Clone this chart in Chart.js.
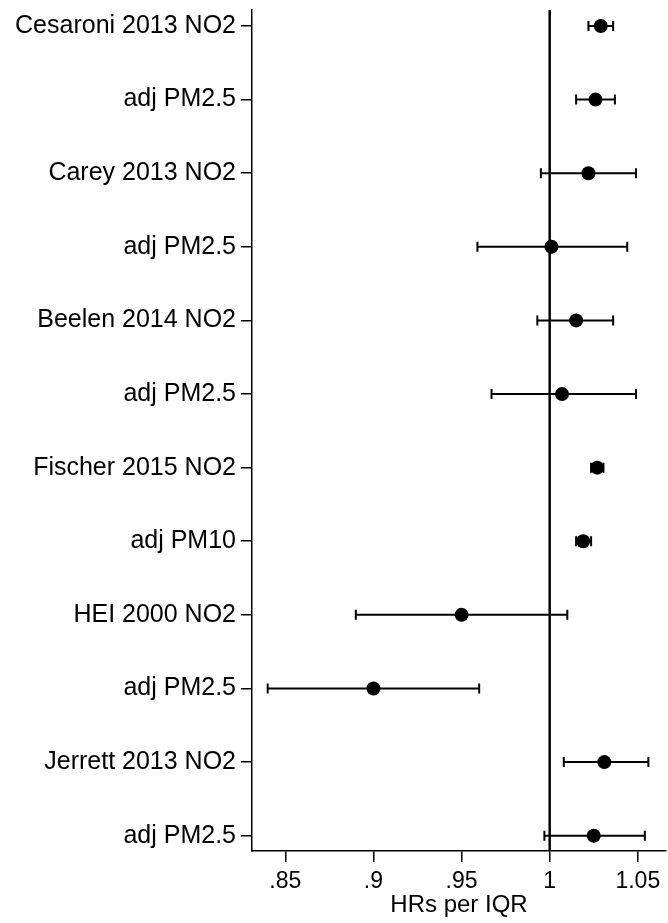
<!DOCTYPE html>
<html>
<head>
<meta charset="utf-8">
<script src="https://cdn.jsdelivr.net/npm/chart.js@4"></script>
<style>
  body { margin: 0; background: #fff; }
  #wrap { width: 668px; height: 923px; position: relative; }
</style>
</head>
<body>
<div id="wrap"><canvas id="forest"></canvas></div>
<script>
// study rows, top to bottom
const rowLabels = ['Cesaroni 2013 NO2', 'adj PM2.5', 'Carey 2013 NO2', 'adj PM2.5',
  'Beelen 2014 NO2', 'adj PM2.5', 'Fischer 2015 NO2', 'adj PM10',
  'HEI 2000 NO2', 'adj PM2.5', 'Jerrett 2013 NO2', 'adj PM2.5'];
const hr    = [1.029, 1.026, 1.022, 1.001, 1.015, 1.007, 1.027, 1.019, 0.950, 0.900, 1.031, 1.025];
const lower = [1.022, 1.015, 0.995, 0.959, 0.993, 0.967, 1.0235, 1.015, 0.890, 0.840, 1.008, 0.997];
const upper = [1.036, 1.037, 1.049, 1.044, 1.036, 1.049, 1.0305, 1.0235, 1.010, 0.960, 1.056, 1.054];

const xTickValues = [0.85, 0.9, 0.95, 1, 1.05];
const xTickLabels = ['.85', '.9', '.95', '1', '1.05'];
const refValue = 1;

const FONT = 'Liberation Sans, Arial, Helvetica, sans-serif';

// reference line + CI whiskers, drawn under the dots
const forestBars = {
  id: 'forestBars',
  beforeDatasetsDraw(chart) {
    const ctx = chart.ctx;
    const xs = chart.scales.x, ys = chart.scales.y;
    const area = chart.chartArea;
    ctx.save();
    ctx.strokeStyle = '#000';

    let xr = xs.getPixelForValue(refValue);
    ctx.lineWidth = 2.5;
    ctx.beginPath();
    ctx.moveTo(xr, area.top);
    ctx.lineTo(xr, area.bottom);
    ctx.stroke();

    ctx.lineWidth = 2;
    let cap = 5;
    for (let i = 0; i < hr.length; i++) {
      let y = ys.getPixelForValue(i + 1);
      let x1 = xs.getPixelForValue(lower[i]);
      let x2 = xs.getPixelForValue(upper[i]);
      ctx.beginPath();
      ctx.moveTo(x1, y); ctx.lineTo(x2, y);
      ctx.moveTo(x1, y - cap); ctx.lineTo(x1, y + cap);
      ctx.moveTo(x2, y - cap); ctx.lineTo(x2, y + cap);
      ctx.stroke();
    }
    ctx.restore();
  }
};

new Chart(document.getElementById('forest'), {
  type: 'scatter',
  data: {
    datasets: [{
      data: hr.map((v, i) => ({ x: v, y: i + 1 })),
      pointRadius: 7,
      pointHoverRadius: 7,
      backgroundColor: '#000',
      borderWidth: 0
    }]
  },
  options: {
    responsive: true,
    maintainAspectRatio: false,
    animation: false,
    devicePixelRatio: 1,
    layout: { autoPadding: false, padding: { top: 10, right: 2, left: 0, bottom: 0 } },
    plugins: { legend: { display: false }, tooltip: { enabled: false } },
    scales: {
      x: {
        type: 'linear',
        min: 0.8311,
        max: 1.066,
        afterBuildTicks: s => { s.ticks = xTickValues.map(v => ({ value: v })); },
        afterFit: s => { s.height = 72; s.paddingLeft = 0; s.paddingRight = 0; },
        ticks: {
          callback: (v, i) => xTickLabels[i],
          font: { family: FONT, size: 23 },
          color: '#000',
          padding: 6,
          maxRotation: 0,
          autoSkip: false
        },
        grid: { drawOnChartArea: false, drawTicks: true, tickLength: 11, color: '#000', lineWidth: 1.5 },
        border: { display: true, color: '#000', width: 1.5 },
        title: {
          display: true,
          text: 'HRs per IQR',
          font: { family: FONT, size: 24 },
          color: '#000',
          padding: { top: 0, bottom: 3 }
        }
      },
      y: {
        type: 'linear',
        reverse: true,
        min: 0.783,
        max: 12.208,
        afterBuildTicks: s => { s.ticks = rowLabels.map((l, i) => ({ value: i + 1 })); },
        afterFit: s => { s.width = 252; s.paddingTop = 0; s.paddingBottom = 0; },
        ticks: {
          callback: (v, i) => rowLabels[i],
          font: { family: FONT, size: 25 },
          color: '#000',
          padding: 5,
          autoSkip: false
        },
        grid: { drawOnChartArea: false, drawTicks: true, tickLength: 11, color: '#000', lineWidth: 1.5 },
        border: { display: true, color: '#000', width: 1.5 }
      }
    }
  },
  plugins: [forestBars]
});
</script>
</body>
</html>
